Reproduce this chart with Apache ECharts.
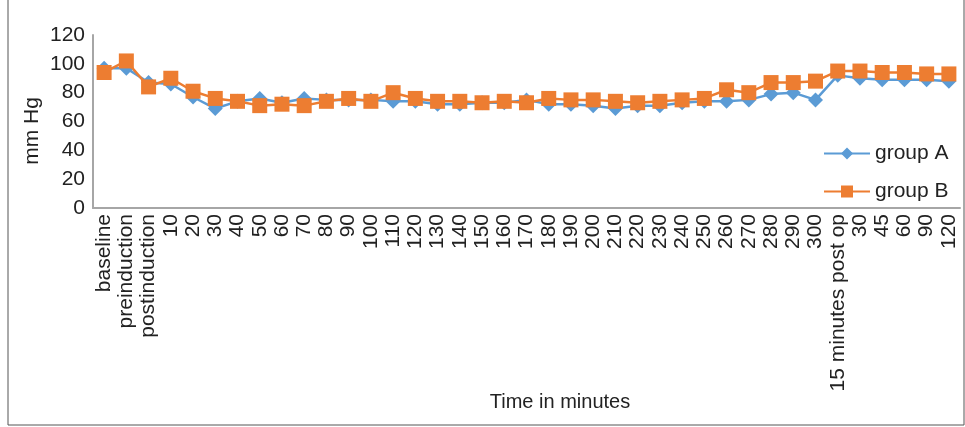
<!DOCTYPE html>
<html>
<head>
<meta charset="utf-8">
<script src="https://cdn.jsdelivr.net/npm/echarts@6/dist/echarts.min.js"></script>
<style>
html,body{margin:0;padding:0;background:#fff;}
#chart{width:965px;height:427px;}
</style>
</head>
<body>
<div id="chart"></div>
<script>
var categories = ["baseline","preinduction","postinduction","10","20","30","40","50","60","70","80","90","100","110","120","130","140","150","160","170","180","190","200","210","220","230","240","250","260","270","280","290","300","15 minutes post op","30","45","60","90","120"];
var groupA = [97,97,87,86,77,69,74,76,73,76,75,75,75,74,74,72,72,73,73,75,72,72,71,69,71,71,73,74,74,75,79,80,75,92,90,89,89,89,88];
var groupB = [94,102,84,90,81,76,74,71,72,71,74,76,74,80,76,74,74,73,74,73,76,75,75,74,73,74,75,76,82,80,87,87,88,95,95,94,94,93,93];
var yTicks = {min:0, max:120, interval:20};

var FONT = 'Liberation Sans, Arial, sans-serif';
var chart = echarts.init(document.getElementById('chart'));
chart.setOption({
  animation:false,
  textStyle:{fontFamily:FONT},
  grid:{left:93,right:5,top:35,bottom:219,containLabel:false},
  legend:{
    orient:'vertical', left:818, top:138, itemGap:17, itemWidth:46, itemHeight:15,
    textStyle:{fontSize:21,color:'#222',fontFamily:FONT},
    data:['group A','group B']
  },
  xAxis:{
    type:'category', data:categories, boundaryGap:true,
    axisLine:{lineStyle:{color:'#a6a6a6',width:2}},
    axisTick:{show:false},
    axisLabel:{rotate:90, interval:0, fontSize:21, color:'#222', margin:6, fontFamily:FONT}
  },
  yAxis:{
    type:'value', min:yTicks.min, max:yTicks.max, interval:yTicks.interval,
    axisLine:{show:true,lineStyle:{color:'#a6a6a6',width:2}},
    axisTick:{show:false},
    splitLine:{show:false},
    axisLabel:{fontSize:21,color:'#222',margin:8,fontFamily:FONT}
  },
  graphic:[
    {type:'rect', shape:{x:8,y:-2,width:956,height:427}, style:{fill:'none',stroke:'#555',lineWidth:1}, silent:true},
    {type:'text', x:32, y:131, rotation:Math.PI/2, style:{text:'mm Hg',fontSize:21,fill:'#222',fontFamily:FONT,align:'center',verticalAlign:'middle'}},
    {type:'text', x:560, y:402, style:{text:'Time in minutes',fontSize:20,fill:'#222',fontFamily:FONT,align:'center',verticalAlign:'middle'}}
  ],
  series:[
    {name:'group A', type:'line', data:groupA, symbol:'diamond', symbolSize:15,
     lineStyle:{color:'#5b9bd5',width:2.5}, itemStyle:{color:'#5b9bd5'}, z:2},
    {name:'group B', type:'line', data:groupB, symbol:'rect', symbolSize:15,
     lineStyle:{color:'#ed7d31',width:2.5}, itemStyle:{color:'#ed7d31'}, z:3}
  ]
});
</script>
</body>
</html>
